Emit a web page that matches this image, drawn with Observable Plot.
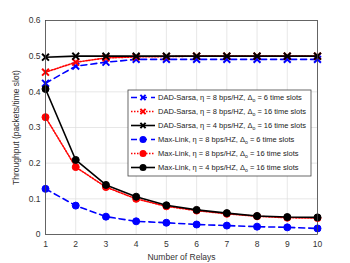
<!DOCTYPE html>
<html><head><meta charset="utf-8">
<script src="https://cdn.jsdelivr.net/npm/d3@7"></script>
<script src="https://cdn.jsdelivr.net/npm/@observablehq/plot@0.6"></script>
<style>body{margin:0;background:#fff;font-family:"Liberation Sans",Arial,sans-serif}</style>
</head><body><div id="chart"></div>
<script>
const relays = [1,2,3,4,5,6,7,8,9,10];
const dad_8_6  = [0.424,0.472,0.483,0.491,0.491,0.491,0.491,0.491,0.491,0.491];
const dad_8_16 = [0.455,0.483,0.495,0.498,0.499,0.5,0.5,0.5,0.5,0.5];
const dad_4_16 = [0.497,0.5,0.5,0.5,0.5,0.5,0.5,0.5,0.5,0.5];
const ml_8_6   = [0.128,0.081,0.050,0.037,0.033,0.028,0.025,0.022,0.020,0.017];
const ml_8_16  = [0.329,0.189,0.133,0.100,0.079,0.067,0.058,0.051,0.047,0.046];
const ml_4_16  = [0.408,0.209,0.139,0.106,0.082,0.069,0.060,0.052,0.049,0.048];
const seriesNames = [
  ["DAD-Sarsa", "8", "6"],
  ["DAD-Sarsa", "8", "16"],
  ["DAD-Sarsa", "4", "16"],
  ["Max-Link", "8", "6"],
  ["Max-Link", "8", "16"],
  ["Max-Link", "4", "16"]
];
const yTicks = [0,0.1,0.2,0.3,0.4,0.5,0.6];

const seriesValues = [dad_8_6, dad_8_16, dad_4_16, ml_8_6, ml_8_16, ml_4_16];
const styles = [
  {color:"#0000ff", dash:"6,4", sym:"times"},
  {color:"#ff0000", dash:"1.5,1.5", sym:"times"},
  {color:"#000000", dash:null, sym:"times"},
  {color:"#0000ff", dash:"6,4", sym:"circle"},
  {color:"#ff0000", dash:"1.5,1.5", sym:"circle"},
  {color:"#000000", dash:null, sym:"circle"}
];

const marks = [
  Plot.gridX(relays, {stroke:"#ddd", strokeOpacity:1, strokeWidth:0.7}),
  Plot.gridY(yTicks, {stroke:"#ddd", strokeOpacity:1, strokeWidth:0.7}),
  Plot.axisX(relays, {tickSize:0, tickPadding:6, fontSize:8.5, color:"#333",
    label:"Number of Relays", labelAnchor:"center", labelArrow:"none", labelOffset:25}),
  Plot.axisY(yTicks, {tickSize:0, tickPadding:5, fontSize:8.5, color:"#333",
    tickFormat: d => d === 0 ? "0" : String(d),
    label:"Throughput (packets/time slot)", labelAnchor:"center", labelArrow:"none", labelOffset:33})
];
seriesValues.forEach((vals, i) => {
  const data = relays.map((r, j) => ({x:r, y:vals[j]}));
  const s = styles[i];
  marks.push(Plot.line(data, {x:"x", y:"y", stroke:s.color, strokeWidth:1.6, strokeDasharray:s.dash}));
  if (s.sym === "times") {
    marks.push(Plot.dot(data, {x:"x", y:"y", symbol:"times", r:3.2, stroke:s.color, strokeWidth:2}));
  } else {
    marks.push(Plot.dot(data, {x:"x", y:"y", symbol:"circle", r:3.5, fill:s.color, stroke:s.color, strokeWidth:1}));
  }
});
marks.push(Plot.frame({stroke:"#444", strokeWidth:0.8}));

const plot = Plot.plot({
  width:350, height:263,
  marginLeft:45, marginRight:33, marginTop:20, marginBottom:29,
  x:{domain:[1,10]},
  y:{domain:[0,0.6]},
  style:{fontFamily:"Liberation Sans, Arial, sans-serif", color:"#333", background:"#fff"},
  marks
});
document.getElementById("chart").appendChild(plot);

// legend inside plot area
const svg = d3.select(plot);
const lg = svg.append("g").attr("font-size", 7.5).attr("fill", "#222").attr("text-anchor", "start");
const bx = 128, by = 90, bw = 183, bh = 86;
lg.append("rect").attr("x", bx).attr("y", by).attr("width", bw).attr("height", bh)
  .attr("fill", "#fff").attr("stroke", "#444").attr("stroke-width", 0.8);
seriesNames.forEach((n, i) => {
  const y = 97.5 + i * 14;
  const s = styles[i];
  const line = lg.append("line").attr("x1", 131).attr("x2", 155).attr("y1", y).attr("y2", y)
    .attr("stroke", s.color).attr("stroke-width", 1.6);
  if (s.dash) line.attr("stroke-dasharray", s.dash);
  if (s.sym === "times") {
    const d = 2.6;
    lg.append("path").attr("d", `M${143-d},${y-d}L${143+d},${y+d}M${143-d},${y+d}L${143+d},${y-d}`)
      .attr("stroke", s.color).attr("stroke-width", 2);
  } else {
    lg.append("circle").attr("cx", 143).attr("cy", y).attr("r", 3.5).attr("fill", s.color);
  }
  const t = lg.append("text").attr("x", 158).attr("y", y).attr("dy", "0.32em").attr("text-anchor", "start");
  t.append("tspan").text(`${n[0]}, η = ${n[1]} bps/HZ, Δ`);
  t.append("tspan").attr("font-size", 5.2).attr("dy", "2").text("o");
  t.append("tspan").attr("dy", "-2").text(` = ${n[2]} time slots`);
});
</script></body></html>
